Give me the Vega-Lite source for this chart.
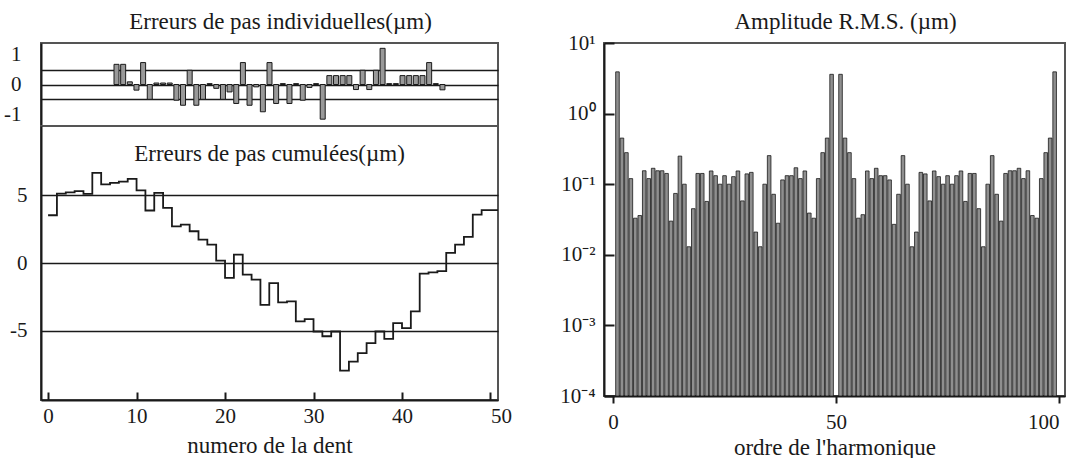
{
  "$schema": "https://vega.github.io/schema/vega-lite/v6.json",
  "background": "white",
  "padding": {"left": 2, "top": 9, "right": 0, "bottom": 0},
  "config": {
    "font": "Liberation Serif",
    "view": {"stroke": "#555", "strokeWidth": 2},
    "axis": {
      "labelFont": "Liberation Serif", "labelFontSize": 21, "labelColor": "#1a1a1a",
      "titleFont": "Liberation Serif", "titleFontSize": 23, "titleFontWeight": "normal", "titleColor": "#1a1a1a",
      "domainColor": "#1a1a1a", "domainWidth": 2, "tickColor": "#1a1a1a", "tickWidth": 2, "grid": false
    },
    "title": {"font": "Liberation Serif", "fontSize": 23, "fontWeight": "normal", "color": "#1a1a1a", "frame": "group"}
  },
  "datasets": {
    "individuelles": [
      {"dent": 1, "erreur": 0.68}, {"dent": 2, "erreur": 0.68}, {"dent": 3, "erreur": 0.09}, {"dent": 4, "erreur": -0.19},
      {"dent": 5, "erreur": 0.74}, {"dent": 6, "erreur": -0.5}, {"dent": 7, "erreur": 0.05}, {"dent": 8, "erreur": 0.05},
      {"dent": 9, "erreur": 0.05}, {"dent": 10, "erreur": -0.53}, {"dent": 11, "erreur": -0.7}, {"dent": 12, "erreur": 0.48},
      {"dent": 13, "erreur": -0.7}, {"dent": 14, "erreur": -0.5}, {"dent": 15, "erreur": 0.03}, {"dent": 16, "erreur": -0.13},
      {"dent": 17, "erreur": -0.5}, {"dent": 18, "erreur": -0.25}, {"dent": 19, "erreur": -0.64}, {"dent": 20, "erreur": 0.74},
      {"dent": 21, "erreur": -0.7}, {"dent": 22, "erreur": -0.08}, {"dent": 23, "erreur": -0.92}, {"dent": 24, "erreur": 0.74},
      {"dent": 25, "erreur": -0.64}, {"dent": 26, "erreur": 0.03}, {"dent": 27, "erreur": -0.64}, {"dent": 28, "erreur": 0.03},
      {"dent": 29, "erreur": -0.53}, {"dent": 30, "erreur": -0.1}, {"dent": 31, "erreur": 0.03}, {"dent": 32, "erreur": -1.17},
      {"dent": 33, "erreur": 0.3}, {"dent": 34, "erreur": 0.3}, {"dent": 35, "erreur": 0.3}, {"dent": 36, "erreur": 0.3},
      {"dent": 37, "erreur": -0.17}, {"dent": 38, "erreur": 0.48}, {"dent": 39, "erreur": -0.17}, {"dent": 40, "erreur": 0.48},
      {"dent": 41, "erreur": 1.22}, {"dent": 42, "erreur": 0.03}, {"dent": 43, "erreur": 0.03}, {"dent": 44, "erreur": 0.3},
      {"dent": 45, "erreur": 0.3}, {"dent": 46, "erreur": 0.3}, {"dent": 47, "erreur": 0.3}, {"dent": 48, "erreur": 0.74},
      {"dent": 49, "erreur": 0.03}, {"dent": 50, "erreur": -0.18}
    ],
    "cumulees": [
      {"dent": 0, "erreur": 3.52}, {"dent": 1, "erreur": 5.12}, {"dent": 2, "erreur": 5.2}, {"dent": 3, "erreur": 5.3},
      {"dent": 4, "erreur": 5.1}, {"dent": 5, "erreur": 6.65}, {"dent": 6, "erreur": 5.8}, {"dent": 7, "erreur": 5.9},
      {"dent": 8, "erreur": 6.0}, {"dent": 9, "erreur": 6.2}, {"dent": 10, "erreur": 5.35}, {"dent": 11, "erreur": 3.87},
      {"dent": 12, "erreur": 5.17}, {"dent": 13, "erreur": 4.06}, {"dent": 14, "erreur": 2.7}, {"dent": 15, "erreur": 2.83},
      {"dent": 16, "erreur": 2.34}, {"dent": 17, "erreur": 1.72}, {"dent": 18, "erreur": 1.35}, {"dent": 19, "erreur": 0.17},
      {"dent": 20, "erreur": -1.1}, {"dent": 21, "erreur": 0.62}, {"dent": 22, "erreur": -0.86}, {"dent": 23, "erreur": -1.23},
      {"dent": 24, "erreur": -3.08}, {"dent": 25, "erreur": -1.48}, {"dent": 26, "erreur": -2.9}, {"dent": 27, "erreur": -2.83},
      {"dent": 28, "erreur": -4.3}, {"dent": 29, "erreur": -4.14}, {"dent": 30, "erreur": -5.05}, {"dent": 31, "erreur": -5.4},
      {"dent": 32, "erreur": -5.05}, {"dent": 33, "erreur": -7.93}, {"dent": 34, "erreur": -7.27}, {"dent": 35, "erreur": -6.65},
      {"dent": 36, "erreur": -5.9}, {"dent": 37, "erreur": -5.05}, {"dent": 38, "erreur": -5.6}, {"dent": 39, "erreur": -4.43},
      {"dent": 40, "erreur": -4.8}, {"dent": 41, "erreur": -3.57}, {"dent": 42, "erreur": -0.79}, {"dent": 43, "erreur": -0.69},
      {"dent": 44, "erreur": -0.6}, {"dent": 45, "erreur": 0.74}, {"dent": 46, "erreur": 1.35}, {"dent": 47, "erreur": 1.92},
      {"dent": 48, "erreur": 3.57}, {"dent": 49, "erreur": 3.9}, {"dent": 50, "erreur": 3.9}, {"dent": 50.85, "erreur": 3.9}
    ],
    "spectre": [
      {"harmonique": 1, "amplitude": 3.9}, {"harmonique": 2, "amplitude": 0.45}, {"harmonique": 3, "amplitude": 0.28}, {"harmonique": 4, "amplitude": 0.12},
      {"harmonique": 5, "amplitude": 0.033}, {"harmonique": 6, "amplitude": 0.036}, {"harmonique": 7, "amplitude": 0.155}, {"harmonique": 8, "amplitude": 0.12},
      {"harmonique": 9, "amplitude": 0.168}, {"harmonique": 10, "amplitude": 0.155}, {"harmonique": 11, "amplitude": 0.155}, {"harmonique": 12, "amplitude": 0.142},
      {"harmonique": 13, "amplitude": 0.03}, {"harmonique": 14, "amplitude": 0.074}, {"harmonique": 15, "amplitude": 0.25}, {"harmonique": 16, "amplitude": 0.1},
      {"harmonique": 17, "amplitude": 0.013}, {"harmonique": 18, "amplitude": 0.045}, {"harmonique": 19, "amplitude": 0.142}, {"harmonique": 20, "amplitude": 0.142},
      {"harmonique": 21, "amplitude": 0.057}, {"harmonique": 22, "amplitude": 0.154}, {"harmonique": 23, "amplitude": 0.132}, {"harmonique": 24, "amplitude": 0.1},
      {"harmonique": 25, "amplitude": 0.132}, {"harmonique": 26, "amplitude": 0.1}, {"harmonique": 27, "amplitude": 0.128}, {"harmonique": 28, "amplitude": 0.154},
      {"harmonique": 29, "amplitude": 0.058}, {"harmonique": 30, "amplitude": 0.14}, {"harmonique": 31, "amplitude": 0.147}, {"harmonique": 32, "amplitude": 0.021},
      {"harmonique": 33, "amplitude": 0.013}, {"harmonique": 34, "amplitude": 0.1}, {"harmonique": 35, "amplitude": 0.254}, {"harmonique": 36, "amplitude": 0.072},
      {"harmonique": 37, "amplitude": 0.028}, {"harmonique": 38, "amplitude": 0.115}, {"harmonique": 39, "amplitude": 0.132}, {"harmonique": 40, "amplitude": 0.132},
      {"harmonique": 41, "amplitude": 0.171}, {"harmonique": 42, "amplitude": 0.12}, {"harmonique": 43, "amplitude": 0.154}, {"harmonique": 44, "amplitude": 0.039},
      {"harmonique": 45, "amplitude": 0.033}, {"harmonique": 46, "amplitude": 0.12}, {"harmonique": 47, "amplitude": 0.28}, {"harmonique": 48, "amplitude": 0.45},
      {"harmonique": 49, "amplitude": 3.6},
      {"harmonique": 51, "amplitude": 3.6}, {"harmonique": 52, "amplitude": 0.45}, {"harmonique": 53, "amplitude": 0.28}, {"harmonique": 54, "amplitude": 0.12},
      {"harmonique": 55, "amplitude": 0.033}, {"harmonique": 56, "amplitude": 0.037}, {"harmonique": 57, "amplitude": 0.154}, {"harmonique": 58, "amplitude": 0.12},
      {"harmonique": 59, "amplitude": 0.168}, {"harmonique": 60, "amplitude": 0.132}, {"harmonique": 61, "amplitude": 0.132}, {"harmonique": 62, "amplitude": 0.115},
      {"harmonique": 63, "amplitude": 0.027}, {"harmonique": 64, "amplitude": 0.072}, {"harmonique": 65, "amplitude": 0.254}, {"harmonique": 66, "amplitude": 0.1},
      {"harmonique": 67, "amplitude": 0.013}, {"harmonique": 68, "amplitude": 0.021}, {"harmonique": 69, "amplitude": 0.147}, {"harmonique": 70, "amplitude": 0.14},
      {"harmonique": 71, "amplitude": 0.058}, {"harmonique": 72, "amplitude": 0.154}, {"harmonique": 73, "amplitude": 0.128}, {"harmonique": 74, "amplitude": 0.1},
      {"harmonique": 75, "amplitude": 0.132}, {"harmonique": 76, "amplitude": 0.1}, {"harmonique": 77, "amplitude": 0.132}, {"harmonique": 78, "amplitude": 0.154},
      {"harmonique": 79, "amplitude": 0.057}, {"harmonique": 80, "amplitude": 0.142}, {"harmonique": 81, "amplitude": 0.142}, {"harmonique": 82, "amplitude": 0.045},
      {"harmonique": 83, "amplitude": 0.013}, {"harmonique": 84, "amplitude": 0.1}, {"harmonique": 85, "amplitude": 0.254}, {"harmonique": 86, "amplitude": 0.072},
      {"harmonique": 87, "amplitude": 0.03}, {"harmonique": 88, "amplitude": 0.142}, {"harmonique": 89, "amplitude": 0.155}, {"harmonique": 90, "amplitude": 0.155},
      {"harmonique": 91, "amplitude": 0.168}, {"harmonique": 92, "amplitude": 0.12}, {"harmonique": 93, "amplitude": 0.155}, {"harmonique": 94, "amplitude": 0.036},
      {"harmonique": 95, "amplitude": 0.033}, {"harmonique": 96, "amplitude": 0.12}, {"harmonique": 97, "amplitude": 0.28}, {"harmonique": 98, "amplitude": 0.45},
      {"harmonique": 99, "amplitude": 3.9}
    ]
  },
  "spacing": 45,
  "hconcat": [
    {
      "spacing": 0,
      "bounds": "flush",
      "vconcat": [
        {
          "width": 457,
          "height": 83,
          "title": {"text": "Erreurs de pas individuelles(µm)", "offset": 9, "dx": 11},
          "data": {"name": "individuelles"},
          "mark": {"type": "bar", "orient": "vertical", "size": 5, "fill": "#999999", "stroke": "#1a1a1a", "strokeWidth": 1},
          "encoding": {
            "x": {"field": "dent", "type": "quantitative", "scale": {"domain": [-9.6, 57.6]}, "axis": null},
            "y": {
              "field": "erreur", "type": "quantitative",
              "scale": {"domain": [-1.4, 1.4], "nice": false},
              "axis": {
                "title": null, "values": [-1, -0.5, 0, 0.5, 1], "ticks": false, "labelPadding": 20,
                "labelExpr": "abs(datum.value) == 0.5 ? '' : datum.value == 1 ? '1' : datum.value == -1 ? '-1' : '0'",
                "grid": true, "gridColor": "#1a1a1a", "gridWidth": 1.5,
                "gridOpacity": {"condition": {"test": "abs(datum.value) == 1", "value": 0}, "value": 1}
              }
            },
            "y2": {"datum": 0}
          }
        },
        {
          "width": 457,
          "height": 274,
          "title": {"text": "Erreurs de pas cumulées(µm)", "offset": -40},
          "data": {"name": "cumulees"},
          "mark": {"type": "line", "interpolate": "step-after", "color": "#1a1a1a", "strokeWidth": 1.8},
          "encoding": {
            "x": {
              "field": "dent", "type": "quantitative",
              "scale": {"domain": [-0.8, 50.85], "nice": false},
              "axis": {
                "title": "numero de la dent", "values": [0, 10, 20, 30, 40, 50], "format": "d", "tickSize": -8, "labelPadding": 13,
                "labelFlush": false, "labelAlign": {"condition": {"test": "datum.value == 50", "value": "left"}, "value": "center"},
                "titlePadding": 8
              }
            },
            "y": {
              "field": "erreur", "type": "quantitative",
              "scale": {"domain": [-10.1, 10.1], "nice": false},
              "axis": {
                "title": null, "values": [-5, 0, 5], "ticks": false, "labelPadding": 14,
                "labelExpr": "datum.value < 0 ? '-' + abs(datum.value) : '' + datum.value",
                "grid": true, "gridColor": "#1a1a1a", "gridWidth": 1.5
              }
            }
          }
        }
      ]
    },
    {
      "width": 461,
      "height": 353,
      "title": {"text": "Amplitude R.M.S. (µm)", "offset": -1.5, "dx": 11},
      "data": {"name": "spectre"},
      "mark": {"type": "bar", "orient": "vertical", "size": 3.6, "fill": "#8f8f8f", "stroke": "#1a1a1a", "strokeWidth": 0.8},
      "encoding": {
        "x": {
          "field": "harmonique", "type": "quantitative",
          "scale": {"domain": [-0.9, 100.2], "nice": false},
          "axis": {"title": "ordre de l'harmonique", "values": [0, 50, 100], "format": "d", "tickSize": 7, "labelPadding": 8, "labelFlush": 6, "titlePadding": 4}
        },
        "y": {
          "field": "amplitude", "type": "quantitative",
          "scale": {"type": "log", "domain": [0.0001, 10], "nice": false},
          "axis": {
            "title": null, "values": [0.0001, 0.001, 0.01, 0.1, 1, 10], "tickSize": -10, "labelPadding": 19,
            "labelExpr": "'10' + ['⁻⁴','⁻³','⁻²','⁻¹','⁰','¹'][round(log(datum.value) / LN10) + 4]"
          }
        },
        "y2": {"datum": 0.0001}
      }
    }
  ]
}
